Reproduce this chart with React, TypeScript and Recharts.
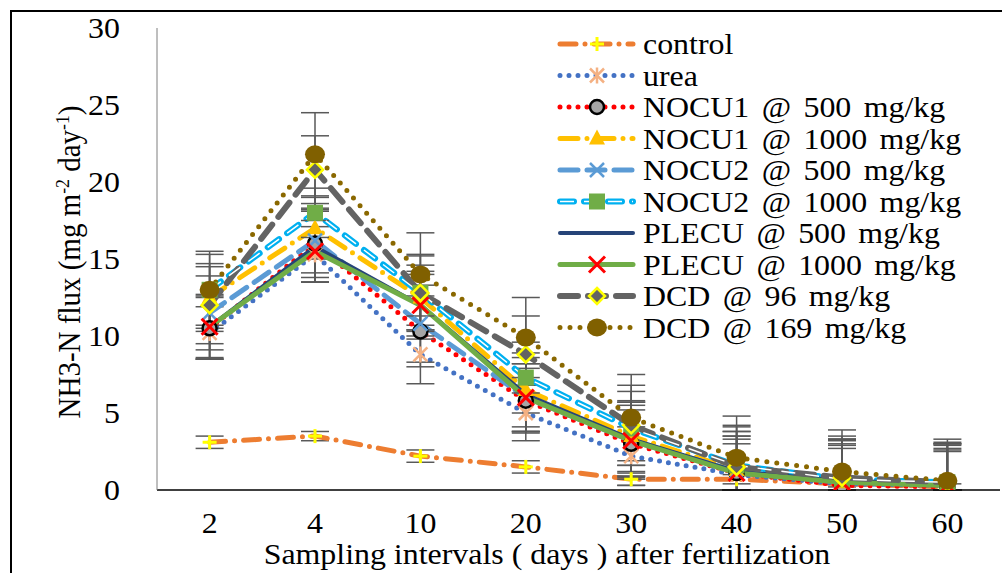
import React from 'react'
import { LineChart, Line, XAxis, YAxis, ErrorBar } from 'recharts'

// sampling days after fertilization
const days = ['2', '4', '10', '20', '30', '40', '50', '60']
const yTicks = [0, 5, 10, 15, 20, 25, 30]

// NH3-N flux, mg m-2 day-1
const control = [3.1, 3.5, 2.2, 1.5, 0.7, 0.7, 0.4, 0.2]
const urea = [10.2, 15.3, 8.8, 5.0, 2.2, 1.0, 0.4, 0.3]
const nocu1_500 = [10.5, 16.0, 10.3, 5.8, 3.0, 1.1, 0.3, 0.2]
const nocu1_1000 = [12.5, 17.0, 12.5, 6.5, 3.5, 1.3, 0.5, 0.4]
const nocu2_500 = [11.5, 16.2, 10.8, 6.0, 3.2, 1.2, 0.5, 0.4]
const nocu2_1000 = [13.0, 18.0, 12.8, 7.3, 4.0, 1.6, 0.7, 0.5]
const plecu_500 = [10.6, 15.8, 12.0, 6.2, 3.3, 1.2, 0.6, 0.4]
const plecu_1000 = [10.6, 15.5, 12.0, 6.0, 3.2, 1.1, 0.5, 0.3]
const dcd_96 = [12.0, 20.8, 12.8, 8.8, 4.2, 1.5, 0.8, 0.5]
const dcd_169 = [13.0, 21.8, 14.0, 9.9, 4.7, 2.1, 1.2, 0.6]

// standard errors
const controlErr = [0.4, 0.3, 0.4, 0.4, 0.4, 0.3, 0.2, 0.2]
const ureaErr = [1.7, 1.8, 1.9, 1.8, 1.9, 2.0, 2.3, 2.2]
const nocu1_500Err = [2.0, 2.2, 2.3, 2.1, 2.2, 2.4, 2.6, 2.4]
const nocu1_1000Err = [2.2, 2.0, 2.1, 2.4, 2.3, 2.5, 2.8, 2.6]
const nocu2_500Err = [2.4, 2.1, 2.5, 2.2, 2.5, 2.6, 2.7, 2.5]
const nocu2_1000Err = [2.3, 1.6, 2.4, 2.3, 2.4, 2.6, 2.6, 2.5]
const plecu_500Err = [2.1, 2.3, 2.2, 2.4, 2.4, 2.3, 2.7, 2.6]
const plecu_1000Err = [2.0, 2.0, 2.0, 2.2, 2.3, 2.2, 2.5, 2.4]
const dcd_96Err = [2.5, 2.2, 2.5, 2.5, 2.6, 2.6, 2.7, 2.6]
const dcd_169Err = [2.5, 2.7, 2.7, 2.6, 2.8, 2.7, 2.7, 2.7]

// text is drawn at 18px and scaled, slightly wider than tall like the source
const FONT = 'Liberation Serif'
const BASE = 18
const K = 29 / BASE
const SX = K * 1.1

type Kind = 'plus' | 'star' | 'circle' | 'tri' | 'xblue' | 'square' | 'none' | 'xred' | 'diamond' | 'bigcircle'

const series = [
  { key: 'control', name: 'control', vals: control, err: controlErr, color: '#ED7D31', dash: '16 9 0 9', w: 5, dot: 'plus' as Kind },
  { key: 'urea', name: 'urea', vals: urea, err: ureaErr, color: '#4472C4', dash: '0 9', w: 5, dot: 'star' as Kind },
  { key: 'n1a', name: 'NOCU1 @ 500 mg/kg', vals: nocu1_500, err: nocu1_500Err, color: '#FF0000', dash: '0 9', w: 5, dot: 'circle' as Kind },
  { key: 'n1b', name: 'NOCU1 @ 1000 mg/kg', vals: nocu1_1000, err: nocu1_1000Err, color: '#FFC000', dash: '18 9 0 9', w: 5, dot: 'tri' as Kind },
  { key: 'n2a', name: 'NOCU2 @ 500 mg/kg', vals: nocu2_500, err: nocu2_500Err, color: '#5B9BD5', dash: '18 9', w: 5, dot: 'xblue' as Kind },
  { key: 'n2b', name: 'NOCU2 @ 1000 mg/kg', vals: nocu2_1000, err: nocu2_1000Err, color: '#00B0F0', dash: '14 10', w: 6, dot: 'square' as Kind },
  { key: 'p1', name: 'PLECU @ 500 mg/kg', vals: plecu_500, err: plecu_500Err, color: '#264478', dash: undefined, w: 4, dot: 'none' as Kind },
  { key: 'p2', name: 'PLECU @ 1000 mg/kg', vals: plecu_1000, err: plecu_1000Err, color: '#70AD47', dash: undefined, w: 5, dot: 'xred' as Kind },
  { key: 'd1', name: 'DCD @ 96 mg/kg', vals: dcd_96, err: dcd_96Err, color: '#636363', dash: '18 10', w: 6, dot: 'diamond' as Kind },
  { key: 'd2', name: 'DCD @ 169 mg/kg', vals: dcd_169, err: dcd_169Err, color: '#8A6800', dash: '0 10', w: 5, dot: 'bigcircle' as Kind },
]

// error bars are cut at zero, like the source figure
const rows = days.map((d, i) => {
  const row: Record<string, any> = { day: d }
  series.forEach(s => {
    row[s.key] = s.vals[i]
    row[s.key + 'Err'] = [Math.min(s.err[i], s.vals[i]), s.err[i]]
  })
  return row
})

function Marker({ kind, cx, cy }: { kind: Kind; cx: number; cy: number }) {
  switch (kind) {
    case 'plus':
      return (
        <g stroke="#FFFF00" strokeWidth={3}>
          <line x1={cx - 7} y1={cy} x2={cx + 7} y2={cy} />
          <line x1={cx} y1={cy - 7} x2={cx} y2={cy + 7} />
        </g>
      )
    case 'star':
      return (
        <g stroke="#F4B183" strokeWidth={2.5}>
          <line x1={cx - 7} y1={cy - 7} x2={cx + 7} y2={cy + 7} />
          <line x1={cx - 7} y1={cy + 7} x2={cx + 7} y2={cy - 7} />
          <line x1={cx} y1={cy - 8} x2={cx} y2={cy + 8} />
        </g>
      )
    case 'circle':
      return <circle cx={cx} cy={cy} r={7} fill="#A5A5A5" stroke="#000" strokeWidth={2.5} />
    case 'tri':
      return <polygon points={`${cx},${cy - 9} ${cx + 8},${cy + 6} ${cx - 8},${cy + 6}`} fill="#FFC000" />
    case 'xblue':
      return (
        <g stroke="#5B9BD5" strokeWidth={2.5}>
          <line x1={cx - 7} y1={cy - 7} x2={cx + 7} y2={cy + 7} />
          <line x1={cx - 7} y1={cy + 7} x2={cx + 7} y2={cy - 7} />
        </g>
      )
    case 'square':
      return <rect x={cx - 8} y={cy - 8} width={16} height={16} fill="#70AD47" />
    case 'xred':
      return (
        <g stroke="#FF0000" strokeWidth={3}>
          <line x1={cx - 8} y1={cy - 8} x2={cx + 8} y2={cy + 8} />
          <line x1={cx - 8} y1={cy + 8} x2={cx + 8} y2={cy - 8} />
        </g>
      )
    case 'diamond':
      return <polygon points={`${cx},${cy - 8} ${cx + 8},${cy} ${cx},${cy + 8} ${cx - 8},${cy}`} fill="#636363" stroke="#FFFF00" strokeWidth={2.5} />
    case 'bigcircle':
      return <ellipse cx={cx} cy={cy} rx={10} ry={9} fill="#806000" />
    default:
      return null
  }
}

const makeDot = (kind: Kind, key: string) => (props: any) => {
  const { cx, cy, index } = props
  if (kind === 'none' || cx == null || cy == null) return <g key={`${key}-${index}`} />
  return (
    <g key={`${key}-${index}`}>
      <Marker kind={kind} cx={cx} cy={cy} />
    </g>
  )
}

const YTick = ({ x, y, payload }: any) => (
  <text
    transform={`translate(${x - 29},${y}) scale(${SX},${K})`}
    dy="0.35em"
    textAnchor="end"
    fontFamily={FONT}
    fontSize={BASE}
    fill="#000"
  >
    {payload.value}
  </text>
)

const XTick = ({ x, y, payload }: any) => (
  <text
    transform={`translate(${x},${y + 25}) scale(${SX},${K})`}
    dy="0.35em"
    textAnchor="middle"
    fontFamily={FONT}
    fontSize={BASE}
    fill="#000"
  >
    {payload.value}
  </text>
)

// rotated: text length runs down the page, so the wider stretch goes on its height
const YTitle = () => (
  <text
    transform={`translate(80, 262) rotate(-90) scale(${K},${SX})`}
    textAnchor="middle"
    fontFamily={FONT}
    fontSize={BASE}
    fill="#000"
  >
    NH3-N flux (mg m
    <tspan dy={-6} fontSize={11}>-2</tspan>
    <tspan dy={6}> day</tspan>
    <tspan dy={-6} fontSize={11}>-1</tspan>
    <tspan dy={6}>)</tspan>
  </text>
)

const XTitle = () => (
  <text
    transform={`translate(547, 554) scale(${SX},${K})`}
    dy="0.35em"
    textAnchor="middle"
    fontFamily={FONT}
    fontSize={BASE}
    fill="#000"
  >
    Sampling intervals ( days ) after fertilization
  </text>
)

function LegendBox() {
  return (
    <svg width={446} height={330} style={{ position: 'absolute', left: 556, top: 28 }}>
      {series.map((s, i) => {
        const cy = 16 + i * 31.5
        return (
          <g key={s.key}>
            <line x1={4} y1={cy} x2={77} y2={cy} stroke={s.color} strokeWidth={s.w} strokeLinecap="round" strokeDasharray={s.dash} />
            {s.key === 'n2b' && (
              <line x1={4} y1={cy} x2={77} y2={cy} stroke="#fff" strokeWidth={1.5} strokeDasharray={s.dash} />
            )}
            <Marker kind={s.dot} cx={41} cy={cy} />
            <text
              transform={`translate(87,${cy}) scale(${SX},${K})`}
              dy="0.35em"
              fontFamily={FONT}
              fontSize={BASE}
              fill="#000"
              style={{ wordSpacing: 2.5 }}
            >
              {s.name}
            </text>
          </g>
        )
      })}
    </svg>
  )
}

export default function App() {
  return (
    <div style={{ position: 'absolute', left: 0, top: 0, width: 1002, height: 573, overflow: 'hidden', background: '#fff' }}>
      <div style={{ position: 'absolute', left: 10, top: 10, width: 1100, height: 700, border: '2px solid #000' }} />
      <div style={{ position: 'absolute', left: 0, top: 0 }}>
        <LineChart width={1002} height={573} data={rows} margin={{ top: 28, right: 2, bottom: 43, left: 97 }}>
          <XAxis
            dataKey="day"
            padding={{ left: 52.6, right: 52.6 }}
            tick={<XTick />}
            tickLine={false}
            axisLine={{ stroke: '#000', strokeWidth: 1.5 }}
            height={40}
            interval={0}
            label={<XTitle />}
          />
          <YAxis
            domain={[0, 30]}
            allowDataOverflow
            ticks={yTicks}
            tick={<YTick />}
            tickLine={false}
            axisLine={{ stroke: '#7f7f7f', strokeWidth: 1 }}
            width={60}
            label={<YTitle />}
          />
          {series.map(s => (
            <Line
              key={s.key}
              dataKey={s.key}
              stroke={s.color}
              strokeWidth={s.w}
              strokeDasharray={s.dash}
              strokeLinecap="round"
              dot={makeDot(s.dot, s.key)}
              activeDot={false}
              isAnimationActive={false}
            >
              <ErrorBar dataKey={s.key + 'Err'} width={14} stroke="#595959" strokeWidth={1.5} direction="y" />
            </Line>
          ))}
          <Line
            dataKey="n2b"
            stroke="#fff"
            strokeWidth={1.5}
            strokeDasharray="14 10"
            dot={false}
            activeDot={false}
            isAnimationActive={false}
          />
        </LineChart>
      </div>
      <LegendBox />
    </div>
  )
}
